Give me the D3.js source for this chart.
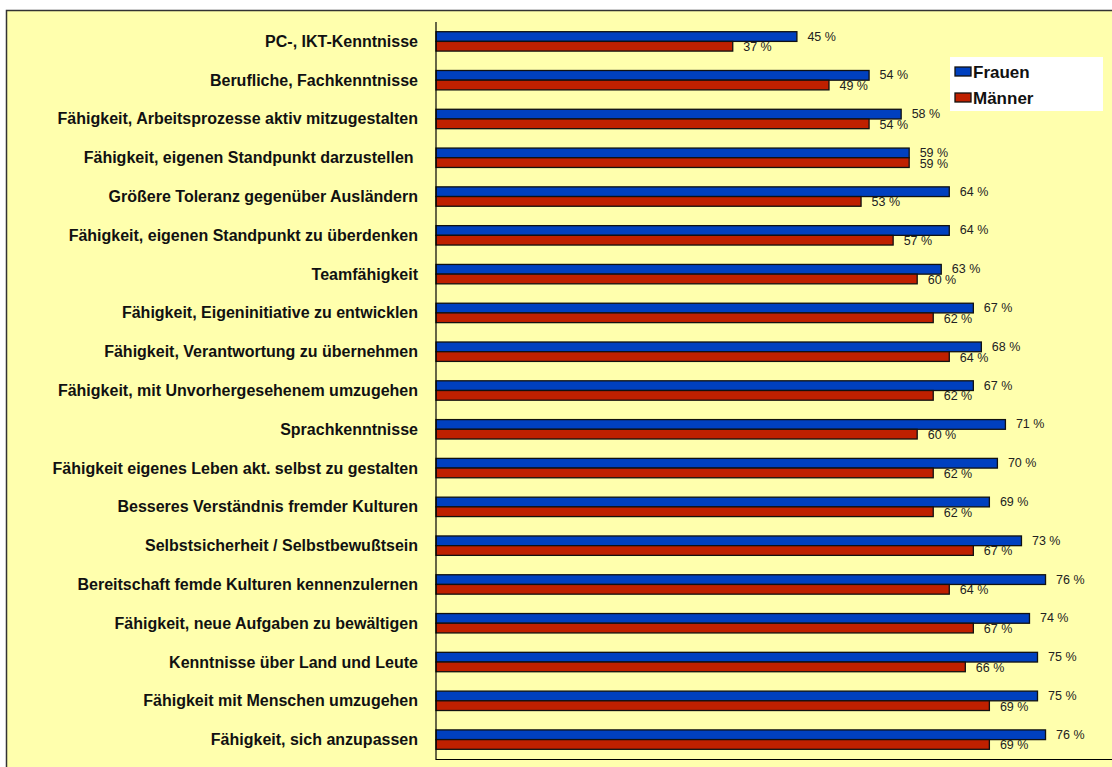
<!DOCTYPE html>
<html>
<head>
<meta charset="utf-8">
<script src="https://cdn.jsdelivr.net/npm/d3@7/dist/d3.min.js"></script>
<style>
  body { margin: 0; background: #ffffff; }
  svg { display: block; font-family: Arial, "Liberation Sans", sans-serif; }
</style>
</head>
<body>
<div id="chart"></div>
<script>
// chart data
var categories = [
  'PC-, IKT-Kenntnisse',
  'Berufliche, Fachkenntnisse',
  'Fähigkeit, Arbeitsprozesse aktiv mitzugestalten',
  'Fähigkeit, eigenen Standpunkt darzustellen ',
  'Größere Toleranz gegenüber Ausländern',
  'Fähigkeit, eigenen Standpunkt zu überdenken',
  'Teamfähigkeit',
  'Fähigkeit, Eigeninitiative zu entwicklen',
  'Fähigkeit, Verantwortung zu übernehmen',
  'Fähigkeit, mit Unvorhergesehenem umzugehen',
  'Sprachkenntnisse',
  'Fähigkeit eigenes Leben akt. selbst zu gestalten',
  'Besseres Verständnis fremder Kulturen',
  'Selbstsicherheit / Selbstbewußtsein',
  'Bereitschaft femde Kulturen kennenzulernen',
  'Fähigkeit, neue Aufgaben zu bewältigen',
  'Kenntnisse über Land und Leute',
  'Fähigkeit mit Menschen umzugehen',
  'Fähigkeit, sich anzupassen'
];

var frauen = [45, 54, 58, 59, 64, 64, 63, 67, 68, 67, 71, 70, 69, 73, 76, 74, 75, 75, 76];
var maenner = [37, 49, 54, 59, 53, 57, 60, 62, 64, 62, 60, 62, 62, 67, 64, 67, 66, 69, 69];

var seriesNames = ['Frauen', 'Männer'];
var seriesColors = ['#0040bf', '#bf2000'];

var width = 1112,
  height = 767;

var plot = { left: 436, top: 22, bottom: 759, right: 1238 };

var svg = d3.select('#chart')
  .append('svg')
  .attr('width', width)
  .attr('height', height);

// chart area (yellow, frame runs off the right/bottom edge)
svg.append('rect')
  .attr('x', 6.5)
  .attr('y', 10.5)
  .attr('width', 1130)
  .attr('height', 790)
  .attr('fill', '#ffffad')
  .attr('stroke', '#333')
  .attr('stroke-width', 1.5);

var xScale = d3.scaleLinear()
  .domain([0, 100])
  .range([plot.left, plot.right]);

var yScale = d3.scaleBand()
  .domain(categories)
  .range([plot.top, plot.bottom])
  .padding(0);

var bw = yScale.bandwidth();
var sScale = d3.scaleBand()
  .domain(seriesNames)
  .range([bw * 0.25, bw * 0.75])
  .padding(0);

var rows = categories.map(function(c, i) {
  return { name: c, values: [frauen[i], maenner[i]] };
});

var groups = svg.selectAll('.group')
  .data(rows)
  .enter()
  .append('g')
  .attr('class', 'group')
  .attr('transform', function(d) {
    return 'translate(0,' + yScale(d.name) + ')';
  });

groups.selectAll('rect')
  .data(function(d) {
    return d.values.map(function(v, j) { return { key: seriesNames[j], value: v, idx: j }; });
  })
  .enter()
  .append('rect')
  .attr('x', xScale(0))
  .attr('y', function(d) { return sScale(d.key); })
  .attr('width', function(d) { return xScale(d.value) - xScale(0); })
  .attr('height', sScale.bandwidth())
  .attr('fill', function(d) { return seriesColors[d.idx]; })
  .attr('stroke', '#111')
  .attr('stroke-width', 1.3);

groups.selectAll('.val')
  .data(function(d) {
    return d.values.map(function(v, j) { return { key: seriesNames[j], value: v, idx: j }; });
  })
  .enter()
  .append('text')
  .attr('class', 'val')
  .attr('x', function(d) { return xScale(d.value) + 10.5; })
  .attr('y', function(d) {
    // nudge apart slightly, like the original labels
    return sScale(d.key) + sScale.bandwidth() / 2 + (d.idx ? 1 : 0);
  })
  .attr('dominant-baseline', 'central')
  .attr('font-size', '12.5px')
  .attr('fill', '#222')
  .text(function(d) { return d.value + ' %'; });

// category labels
svg.append('g')
  .selectAll('text')
  .data(categories)
  .enter()
  .append('text')
  .attr('x', 418)
  .attr('y', function(d) { return yScale(d) + bw / 2; })
  .attr('text-anchor', 'end')
  .attr('dominant-baseline', 'central')
  .attr('font-size', '16px')
  .attr('font-weight', 'bold')
  .attr('fill', '#111')
  .text(function(d) { return d.replace(/ $/, '\u00a0'); });

// axes lines (no ticks)
svg.append('line')
  .attr('x1', plot.left).attr('x2', plot.left)
  .attr('y1', plot.top).attr('y2', plot.bottom + 1)
  .attr('stroke', '#000').attr('stroke-width', 1.2);

svg.append('line')
  .attr('x1', plot.left).attr('x2', width)
  .attr('y1', plot.bottom + 0.5).attr('y2', plot.bottom + 0.5)
  .attr('stroke', '#000').attr('stroke-width', 1.2);

// legend
var legend = svg.append('g')
  .attr('transform', 'translate(950,57)');

legend.append('rect')
  .attr('width', 153)
  .attr('height', 54)
  .attr('fill', '#ffffff');

var items = legend.selectAll('.item')
  .data(seriesNames)
  .enter()
  .append('g')
  .attr('class', 'item')
  .attr('transform', function(d, i) {
    return 'translate(5,' + (10 + i * 26) + ')';
  });

items.append('rect')
  .attr('width', 16)
  .attr('height', 9)
  .attr('fill', function(d, i) { return seriesColors[i]; })
  .attr('stroke', '#111')
  .attr('stroke-width', 1.3);

items.append('text')
  .attr('x', 18)
  .attr('y', 5)
  .attr('dominant-baseline', 'central')
  .attr('font-size', '17px')
  .attr('font-weight', 'bold')
  .attr('fill', '#111')
  .text(function(d) { return d; });
</script>
</body>
</html>
